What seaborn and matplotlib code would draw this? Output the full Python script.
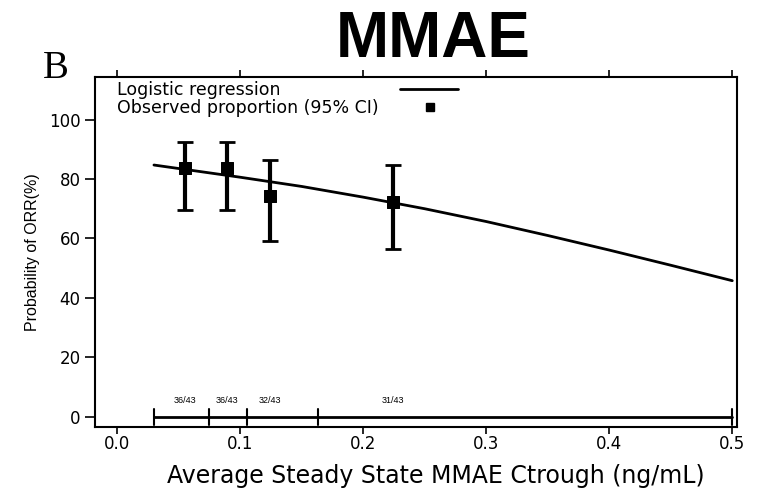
import matplotlib
matplotlib.use("Agg")
import matplotlib.pyplot as plt
import seaborn as sns
import pandas as pd

# Observed proportions
obs_x = [0.055, 0.089, 0.124, 0.224]
obs_y = [83.7, 83.7, 74.4, 72.1]
ci_lo = [69.6, 69.6, 59.2, 56.5]
ci_hi = [92.6, 92.6, 86.4, 84.7]
counts = ["36/43", "36/43", "32/43", "31/43"]

# Logistic regression curve
curve_x = [0.03, 0.1, 0.15, 0.2, 0.25, 0.3, 0.35, 0.4, 0.45, 0.5]
curve_y = [84.7, 80.6, 77.5, 73.9, 70.0, 65.7, 61.0, 56.1, 51.0, 45.8]

# Quartile boundaries
bounds = [0.030, 0.075, 0.106, 0.163, 0.500]

xticks = [0.0, 0.1, 0.2, 0.3, 0.4, 0.5]
yticks = [0, 20, 40, 60, 80, 100]

sns.set_theme(style="ticks")
plt.rcParams['font.family'] = ['DejaVu Sans']
plt.rcParams['text.color'] = 'black'
plt.rcParams['axes.labelcolor'] = 'black'
plt.rcParams['xtick.color'] = 'black'
plt.rcParams['ytick.color'] = 'black'

fig = plt.figure(figsize=(7.6, 5), dpi=100)
ax = fig.add_axes([0.125, 0.146, 0.845, 0.70])

df_curve = pd.DataFrame({"x": curve_x, "y": curve_y})
sns.lineplot(data=df_curve, x="x", y="y", ax=ax, color="black", lw=2)

yerr = [[o - l for o, l in zip(obs_y, ci_lo)], [h - o for o, h in zip(obs_y, ci_hi)]]
ax.errorbar(obs_x, obs_y, yerr=yerr, fmt="none", ecolor="black", elinewidth=3, capsize=6, capthick=2)
df_obs = pd.DataFrame({"x": obs_x, "y": obs_y})
sns.scatterplot(data=df_obs, x="x", y="y", ax=ax, marker="s", s=80, color="black", edgecolor="black", zorder=5)

# Quartile bar at bottom
ax.plot([bounds[0], bounds[-1]], [0, 0], color="black", lw=2)
for b in bounds:
    ax.plot([b, b], [-2.7, 2.7], color="black", lw=1.5)
for x, c in zip(obs_x, counts):
    ax.text(x, 4.0, c, ha="center", va="bottom", fontsize=6.5, family="Liberation Sans")

ax.set_xlim(-0.0179, 0.504)
ax.set_ylim(-3.4, 114.3)
ax.set_xticks(xticks)
ax.set_xticklabels([f"{t:.1f}" for t in xticks], fontsize=12)
ax.set_yticks(yticks)
ax.set_yticklabels([str(t) for t in yticks], fontsize=12)
ax.tick_params(axis="y", direction="out", length=7, width=1.2)
ax.tick_params(axis="x", direction="out", length=5, width=1.2, top=True, bottom=True, pad=1)
for s in ax.spines.values():
    s.set_visible(True)
    s.set_linewidth(1.5)
    s.set_color("black")

ax.set_xlabel("Average Steady State MMAE Ctrough (ng/mL)", fontsize=17)
ax.xaxis.set_label_coords(0.53, -0.105)
ax.set_ylabel("Probability of ORR(%)", fontsize=11.5, labelpad=6, family="Liberation Sans")

# Legend (drawn manually in axes coordinates)
ax.text(0.035, 0.962, "Logistic regression", transform=ax.transAxes, fontsize=12.5, va="center")
ax.text(0.035, 0.912, "Observed proportion (95% CI)", transform=ax.transAxes, fontsize=12.5, va="center")
ax.plot([0.475, 0.565], [0.965, 0.965], transform=ax.transAxes, color="black", lw=2)
ax.plot([0.522], [0.915], transform=ax.transAxes, marker="s", color="black", ms=6)

fig.text(0.57, 0.92, "MMAE", fontsize=46, fontweight="bold", ha="center", va="center",
         family="Liberation Sans")
fig.text(0.074, 0.862, "B", fontsize=28, family="Liberation Serif", ha="center", va="center")

fig.savefig("out.png", dpi=100)
